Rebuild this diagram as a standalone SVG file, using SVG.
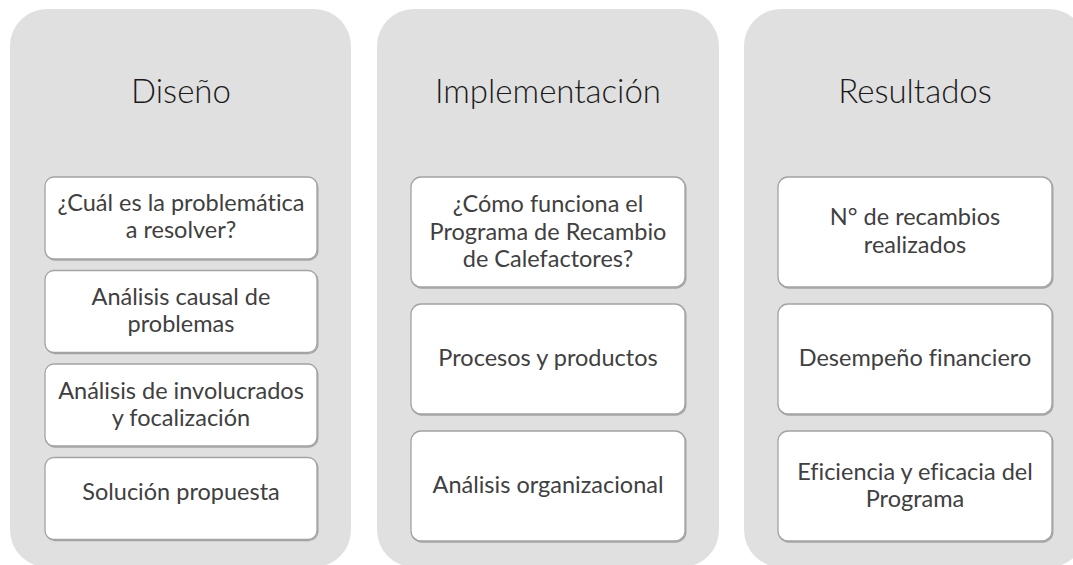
<svg xmlns="http://www.w3.org/2000/svg" width="1073" height="565" viewBox="0 0 1073 565">
<defs>
<style>
.panel{fill:#e0e0e0;}
.shadow{fill:none;stroke:#8c8c8c;stroke-width:1.4;opacity:0.7;}
.box{fill:#ffffff;stroke:#a3a3a3;stroke-width:1.3;}
.title{font-family:Lato,"Liberation Sans",sans-serif;font-weight:300;font-size:33px;fill:#1a1a1a;text-anchor:middle;}
.txt{font-family:Lato,"Liberation Sans",sans-serif;font-size:23.5px;fill:#404040;text-anchor:middle;font-variant-ligatures:none;}
</style>
</defs>
<rect width="1073" height="565" fill="#ffffff"/>

<g id="panel-diseno">
<rect class="panel" x="10" y="9" width="341" height="558" rx="37"/>
<text class="title" x="181" y="103">Diseño</text>
</g>
<g id="panel-implementacion">
<rect class="panel" x="377" y="9" width="342" height="558" rx="37"/>
<text class="title" x="548" y="103">Implementación</text>
</g>
<g id="panel-resultados">
<rect class="panel" x="744" y="9" width="342" height="558" rx="37"/>
<text class="title" x="915" y="103">Resultados</text>
</g>

<g id="d1">
<rect class="shadow" x="45.8" y="178" width="272" height="82" rx="9"/>
<rect class="box" x="45" y="177" width="272" height="82" rx="9"/>
<text class="txt" x="181" y="211">¿Cuál es la problemática</text>
<text class="txt" x="181" y="238">a resolver?</text>
</g>
<g id="d2">
<rect class="shadow" x="45.8" y="271.5" width="272" height="82" rx="9"/>
<rect class="box" x="45" y="270.5" width="272" height="82" rx="9"/>
<text class="txt" x="181" y="305">Análisis causal de</text>
<text class="txt" x="181" y="332">problemas</text>
</g>
<g id="d3">
<rect class="shadow" x="45.8" y="365" width="272" height="82" rx="9"/>
<rect class="box" x="45" y="364" width="272" height="82" rx="9"/>
<text class="txt" x="181" y="399">Análisis de involucrados</text>
<text class="txt" x="181" y="426">y focalización</text>
</g>
<g id="d4">
<rect class="shadow" x="45.8" y="458.5" width="272" height="82" rx="9"/>
<rect class="box" x="45" y="457.5" width="272" height="82" rx="9"/>
<text class="txt" x="181" y="500">Solución propuesta</text>
</g>

<g id="i1">
<rect class="shadow" x="411.8" y="178" width="274" height="110" rx="10"/>
<rect class="box" x="411" y="177" width="274" height="110" rx="10"/>
<text class="txt" x="548" y="212">¿Cómo funciona el</text>
<text class="txt" x="548" y="239.5">Programa de Recambio</text>
<text class="txt" x="548" y="267">de Calefactores?</text>
</g>
<g id="i2">
<rect class="shadow" x="411.8" y="305" width="274" height="110" rx="10"/>
<rect class="box" x="411" y="304" width="274" height="110" rx="10"/>
<text class="txt" x="548" y="366">Procesos y productos</text>
</g>
<g id="i3">
<rect class="shadow" x="411.8" y="432" width="274" height="110" rx="10"/>
<rect class="box" x="411" y="431" width="274" height="110" rx="10"/>
<text class="txt" x="548" y="493">Análisis organizacional</text>
</g>

<g id="r1">
<rect class="shadow" x="778.8" y="178" width="274" height="110" rx="10"/>
<rect class="box" x="778" y="177" width="274" height="110" rx="10"/>
<text class="txt" x="915" y="225">N° de recambios</text>
<text class="txt" x="915" y="252.5">realizados</text>
</g>
<g id="r2">
<rect class="shadow" x="778.8" y="305" width="274" height="110" rx="10"/>
<rect class="box" x="778" y="304" width="274" height="110" rx="10"/>
<text class="txt" x="915" y="365.5">Desempeño financiero</text>
</g>
<g id="r3">
<rect class="shadow" x="778.8" y="432" width="274" height="110" rx="10"/>
<rect class="box" x="778" y="431" width="274" height="110" rx="10"/>
<text class="txt" x="915" y="479.5">Eficiencia y eficacia del</text>
<text class="txt" x="915" y="507">Programa</text>
</g>

<g id="connectors"></g>
</svg>
